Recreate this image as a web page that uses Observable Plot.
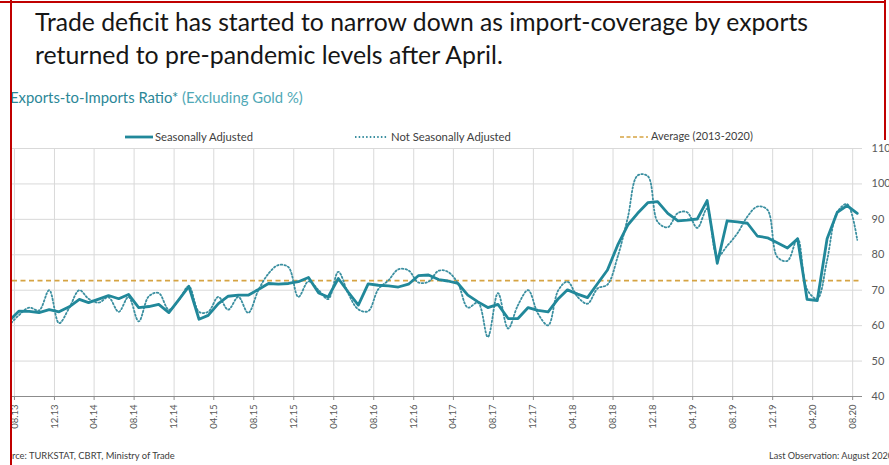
<!DOCTYPE html>
<html><head><meta charset="utf-8">
<script src="https://cdn.jsdelivr.net/npm/d3@7"></script>
<script src="https://cdn.jsdelivr.net/npm/@observablehq/plot@0.6"></script>
<style>
html,body{margin:0;padding:0;background:#fff;overflow:hidden;width:889px;height:465px;}
#wrap{position:relative;width:889px;height:465px;overflow:hidden;font-family:Lato,"Open Sans",sans-serif;}
.t{position:absolute;white-space:nowrap;line-height:1;}
.lg{position:absolute;}
</style></head><body>
<div id="wrap">
  <div class="t" id="title1" style="left:35px;top:10px;font-size:24px;color:#161616">Trade deficit has started to narrow down as import-coverage by exports</div>
  <div class="t" id="title2" style="left:35px;top:42px;font-size:24px;color:#161616">returned to pre-pandemic levels after April.</div>
  <div class="t" id="sub" style="left:10px;top:90px;font-size:13px;"><span style="color:#2b8797">Exports-to-Imports Ratio*</span> <span style="color:#4fa8b6">(Excluding Gold %)</span></div>
  <svg class="lg" style="left:0;top:130px" width="889" height="14">
    <line x1="125" x2="153" y1="7" y2="7" stroke="#21889a" stroke-width="2.8"/>
    <line x1="355" x2="388" y1="7" y2="7" stroke="#3b8fa0" stroke-width="1.8" stroke-dasharray="1.5,2.2"/>
    <line x1="620" x2="648" y1="7" y2="7" stroke="#d6a443" stroke-width="1.6" stroke-dasharray="4,2.5"/>
  </svg>
  <div class="t" id="lg1" style="left:155px;top:131px;font-size:10.5px;color:#404040">Seasonally Adjusted</div>
  <div class="t" id="lg2" style="left:391px;top:131px;font-size:10.5px;color:#404040">Not Seasonally Adjusted</div>
  <div class="t" id="lg3" style="left:651px;top:131px;font-size:10.5px;color:#404040">Average (2013-2020)</div>
  <div id="chart" style="position:absolute;left:0;top:140px"></div>
  <div class="t" id="foot1" style="left:12px;top:451px;font-size:9.5px;color:#404040">rce: TURKSTAT, CBRT, Ministry of Trade</div>
  <div class="t" id="foot2" style="left:769px;top:451px;font-size:9.5px;color:#404040">Last Observation: August 2020</div>
  <div style="position:absolute;left:0;top:1px;width:886px;height:2px;background:#c00000"></div>
  <div style="position:absolute;left:10px;top:0;width:2px;height:465px;background:#c00000"></div>
  <div style="position:absolute;left:884px;top:0;width:2px;height:140px;background:#c00000"></div>
</div>
<script>
// ---- data (monthly, Jul 2013 – Aug 2020) ----
const firstMonth = "2013-07";
const lastMonth = "2020-08";
const seasonallyAdjusted = [
  61.3, 64.1, 64.0, 63.7, 64.5, 63.9, 65.3, 67.4, 66.5, 67.5,
  68.5, 67.6, 68.8, 65.1, 65.4, 66.0, 63.7, 67.3, 71.1, 61.8,
  62.9, 66.2, 68.3, 68.6, 68.6, 70.2, 71.9, 71.7, 71.9, 72.4,
  73.6, 69.2, 68.1, 73.3, 69.5, 65.8, 71.8, 71.4, 71.2, 70.9,
  71.7, 74.1, 74.3, 73.0, 72.6, 71.9, 68.6, 66.7, 65.1, 66.0,
  62.0, 62.0, 65.1, 64.3, 63.9, 67.6, 70.1, 68.9, 67.9, 71.9,
  75.7, 82.7, 88.4, 91.7, 94.7, 95.0, 91.7, 89.6, 89.8, 90.1,
  95.3, 77.6, 89.6, 89.3, 88.9, 85.3, 84.8, 83.4, 81.9, 84.5,
  67.4, 67.1, 84.5, 92.0, 93.9, 91.7
];
const notSeasonallyAdjusted = [
  60.0, 63.0, 65.1, 64.3, 70.0, 60.7, 65.0, 70.0, 67.6, 66.5,
  68.0, 63.9, 68.1, 61.2, 68.3, 69.2, 64.5, 67.2, 71.1, 63.9,
  63.9, 68.1, 64.5, 68.1, 63.6, 70.0, 74.7, 77.1, 76.5, 68.1,
  72.5, 70.0, 67.5, 75.2, 69.1, 64.6, 64.1, 70.3, 72.8, 75.9,
  75.6, 72.2, 72.4, 75.5, 75.2, 71.9, 65.1, 66.5, 56.8, 69.2,
  59.2, 65.8, 70.0, 63.4, 60.1, 70.0, 72.4, 68.1, 66.2, 70.5,
  71.6, 79.4, 90.5, 102.4, 102.2, 89.3, 87.8, 91.8, 92.0, 87.6,
  93.0, 79.5, 82.5, 86.0, 90.8, 93.6, 92.7, 79.4, 78.3, 84.6,
  70.2, 67.6, 78.5, 92.0, 94.3, 84.2
];
const average = 72.7;
const xTickLabels = ["08.13","12.13","04.14","08.14","12.14","04.15","08.15","12.15","04.16","08.16","12.16",
  "04.17","08.17","12.17","04.18","08.18","12.18","04.19","08.19","12.19","04.20","08.20"];
const yTicks = [40, 50, 60, 70, 80, 90, 100, 110];

// ---- build ----
const parseYM = s => { const [y, m] = s.split("-").map(Number); return new Date(Date.UTC(y, m - 1, 1)); };
const months = d3.utcMonths(parseYM(firstMonth), d3.utcMonth.offset(parseYM(lastMonth), 1));
const pointDate = m => d3.utcDay.offset(m, 14);
const sa = months.map((m, i) => ({date: pointDate(m), value: seasonallyAdjusted[i]}));
const nsa = months.map((m, i) => ({date: pointDate(m), value: notSeasonallyAdjusted[i]}));
const tickDates = xTickLabels.map(s => { const [mm, yy] = s.split(".").map(Number); return new Date(Date.UTC(2000 + yy, mm - 1, 1)); });
const labelOf = new Map(tickDates.map((d, i) => [+d, xTickLabels[i]]));

const chart = Plot.plot({
  width: 889, height: 325,
  marginTop: 8, marginBottom: 69, marginLeft: 12, marginRight: 27,
  style: {fontFamily: "Lato, sans-serif", background: "transparent", overflow: "visible"},
  x: {type: "utc", domain: [new Date(Date.UTC(2013, 6, 26)), new Date(Date.UTC(2020, 7, 31))]},
  y: {domain: [40, 110]},
  marks: [
    Plot.gridY(yTicks.filter(v => v > 40), {stroke: "#d9d9d9", strokeOpacity: 1}),
    Plot.gridX(tickDates, {stroke: "#d9d9d9", strokeOpacity: 1}),
    Plot.ruleY([average], {stroke: "#d6a443", strokeWidth: 1.6, strokeDasharray: "5,3.5"}),
    Plot.line(nsa, {x: "date", y: "value", stroke: "#3b8fa0", strokeWidth: 1.8, strokeDasharray: "1.5,2.2", curve: "catmull-rom", clip: true}),
    Plot.line(sa, {x: "date", y: "value", stroke: "#21889a", strokeWidth: 2.8, clip: true}),
    Plot.ruleY([40], {stroke: "#8c8c8c", strokeWidth: 1}),
    Plot.axisX(tickDates, {anchor: "bottom", tickFormat: d => labelOf.get(+d), tickRotate: -90, tickSize: 4, tickPadding: 4, fontSize: 9.5, stroke: "#8c8c8c", fill: "#595959", label: null}),
    Plot.axisY(yTicks, {anchor: "right", tickSize: 0, tickPadding: 9, fontSize: 11, fill: "#595959", label: null})
  ]
});
document.getElementById("chart").appendChild(chart);

// fit HTML texts to the measured widths of the reference
function fit(id, w) {
  const el = document.getElementById(id);
  const fs = parseFloat(getComputedStyle(el).fontSize);
  const r = el.getBoundingClientRect().width;
  el.style.fontSize = (fs * w / r) + "px";
}
fit("title1", 773); fit("title2", 468); fit("sub", 293);
fit("lg1", 98); fit("lg2", 120); fit("lg3", 102);
fit("foot1", 163); fit("foot2", 124);
</script>
</body></html>
